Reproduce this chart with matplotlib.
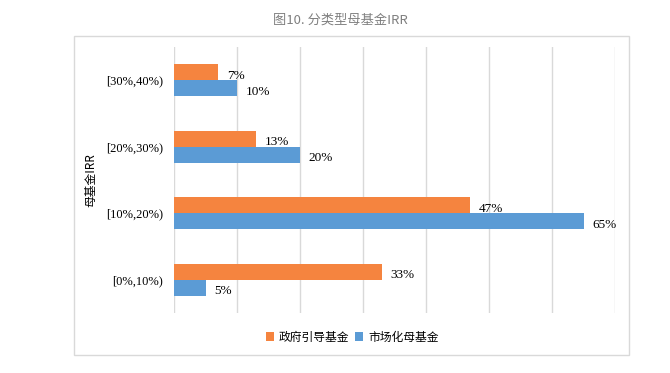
import numpy as np
import matplotlib.pyplot as plt
from matplotlib.patches import Rectangle

categories = ['[0%,10%)', '[10%,20%)', '[20%,30%)', '[30%,40%)']
gov_fund = [33, 47, 13, 7]
market_fund = [5, 65, 20, 10]
series_names = ['政府引导基金', '市场化母基金']

cjk = ['Noto Sans CJK SC', 'DejaVu Sans']
serif = ['Liberation Serif', 'DejaVu Serif']

fig = plt.figure(figsize=(6.7, 3.73), dpi=100)

# outer frame of the chart
fig.patches.append(Rectangle((74 / 670, 1 - 355 / 373), (629 - 74) / 670, (355 - 36) / 373,
                             transform=fig.transFigure, fill=False,
                             edgecolor='#d9d9d9', linewidth=1))

ax = fig.add_axes([174 / 670, 1 - 313 / 373, (615 - 174) / 670, (313 - 47) / 373])

y = np.arange(len(categories))
h = 0.24
ax.barh(y + h / 2, gov_fund, height=h, color='#F5843F', label=series_names[0])
ax.barh(y - h / 2, market_fund, height=h, color='#5B9BD5', label=series_names[1])

for i in range(len(categories)):
    ax.text(gov_fund[i] + 1.4, y[i] + h / 2 - 0.05, f'{gov_fund[i]}%', va='center',
            fontsize=9.5, family=serif)
    ax.text(market_fund[i] + 1.4, y[i] - h / 2 - 0.05, f'{market_fund[i]}%', va='center',
            fontsize=9.5, family=serif)

ax.set_xlim(0, 70)
ax.set_ylim(-0.5, 3.5)
ax.set_xticks(np.arange(0, 71, 10))
ax.set_xticklabels([])
ax.tick_params(axis='x', length=0)
ax.tick_params(axis='y', length=0, pad=8)
ax.set_yticks(y)
ax.set_yticklabels(categories, family=serif, fontsize=9)
ax.grid(axis='x', color='#d9d9d9', linewidth=1)
ax.set_axisbelow(True)
for s in ax.spines.values():
    s.set_visible(False)

ax.set_ylabel('母基金IRR', family=cjk, fontsize=8.5, labelpad=6)

fig.text(340 / 670, 1 - 20 / 373, '图10. 分类型母基金IRR', ha='center', va='center',
         fontsize=9.5, color='#808080', family=cjk)

handles, labels = ax.get_legend_handles_labels()
fig.legend(handles, labels, loc='center', bbox_to_anchor=(352 / 670, 1 - 337 / 373),
           ncol=2, frameon=False, prop={'family': cjk, 'size': 8.5},
           handlelength=0.7, handleheight=0.7, handletextpad=0.4, columnspacing=0.5)

fig.savefig('out.png', dpi=100)
